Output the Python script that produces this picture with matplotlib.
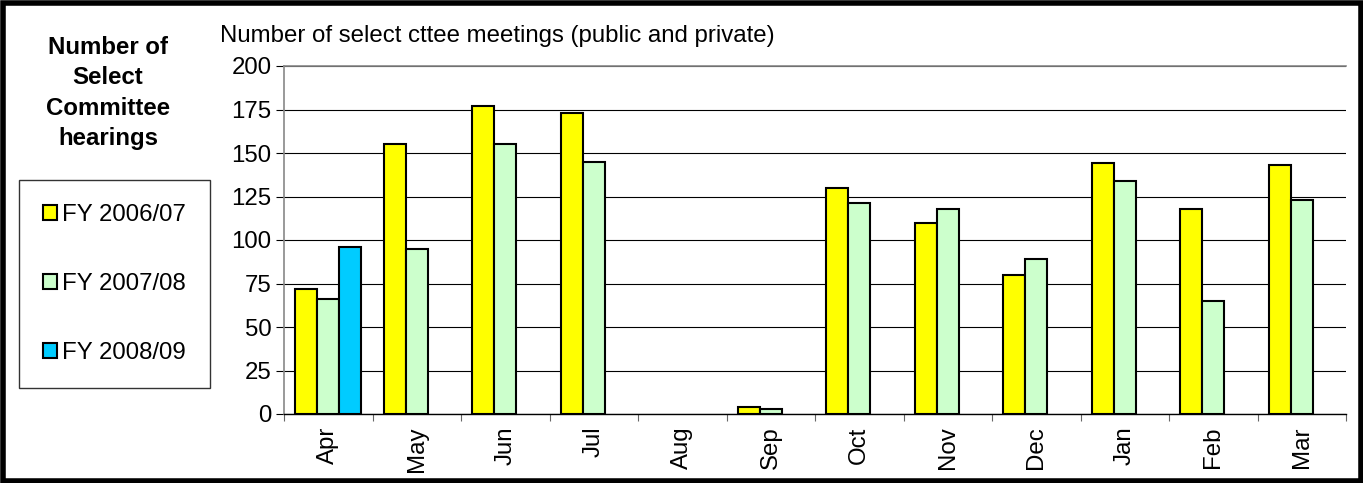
import matplotlib
matplotlib.use("Agg")
import matplotlib.pyplot as plt
from matplotlib.patches import Rectangle
import numpy as np

plt.rcParams['font.family'] = ['Liberation Sans', 'DejaVu Sans']

months = ["Apr", "May", "Jun", "Jul", "Aug", "Sep", "Oct", "Nov", "Dec", "Jan", "Feb", "Mar"]
fy_2006_07 = [72, 155, 177, 173, 0, 4, 130, 110, 80, 144, 118, 143]
fy_2007_08 = [66, 95, 155, 145, 0, 3, 121, 118, 89, 134, 65, 123]
fy_2008_09 = [96, None, None, None, None, None, None, None, None, None, None, None]
series_labels = ["FY 2006/07", "FY 2007/08", "FY 2008/09"]
series_colors = ["#FFFF00", "#CCFFCC", "#00CCFF"]
y_ticks = [0, 25, 50, 75, 100, 125, 150, 175, 200]

FS = 17.3

W, H = 1363, 483
fig = plt.figure(figsize=(W / 100, H / 100), dpi=100)

# plot area in pixel coordinates
px_left, px_right, px_top, px_bottom = 284, 1346, 66, 414
ax = fig.add_axes([px_left / W, (H - px_bottom) / H,
                   (px_right - px_left) / W, (px_bottom - px_top) / H])

x = np.arange(len(months))
bw = 0.25
handles = []
for i, (vals, lab, col) in enumerate(zip([fy_2006_07, fy_2007_08, fy_2008_09],
                                        series_labels, series_colors)):
    xs = [xi + (i - 1) * bw for xi, v in zip(x, vals) if v is not None]
    vs = [v for v in vals if v is not None]
    bars = ax.bar(xs, vs, width=bw, color=col, edgecolor="black",
                  linewidth=1.5, label=lab, zorder=3)
    # zero-height bars leave no visible outline
    for b, v in zip(bars, vs):
        if v == 0:
            b.set_linewidth(0)
    handles.append(bars)

ax.set_xlim(-0.5, len(months) - 0.5)
ax.set_ylim(0, 200)
ax.set_yticks(y_ticks)
ax.set_yticklabels([str(t) for t in y_ticks], fontsize=FS)
ax.yaxis.grid(True, color="black", linewidth=0.8, zorder=0)
ax.set_axisbelow(True)

# category boundaries carry the tick marks, labels sit at the centres
ax.set_xticks(np.arange(-0.5, len(months) + 0.5, 1.0))
ax.set_xticklabels([])
ax.set_xticks(x, minor=True)
ax.set_xticklabels(months, minor=True, rotation=90, fontsize=FS)
ax.tick_params(axis="x", which="minor", length=0, pad=9)
ax.tick_params(axis="x", which="major", length=5, direction="out", color="#666666")
ax.tick_params(axis="y", length=6, direction="out", color="black", pad=3)

for side in ("top", "left"):
    ax.spines[side].set_color("#888888")
    ax.spines[side].set_linewidth(1.2)
ax.spines["right"].set_visible(False)
ax.spines["bottom"].set_color("black")
ax.spines["bottom"].set_linewidth(1.0)

fig.text(220 / W, 1 - 36 / H, "Number of select cttee meetings (public and private)",
         fontsize=FS, ha="left", va="center")

fig.text(108 / W, 1 - 93 / H, "Number of\nSelect\nCommittee\nhearings",
         fontsize=FS, fontweight="bold", ha="center", va="center", linespacing=1.42)

leg = fig.legend(handles=handles, labels=series_labels,
                 loc="center", bbox_to_anchor=(114.5 / W, 1 - 284 / H),
                 fontsize=FS, frameon=True, fancybox=False, edgecolor="black",
                 labelspacing=1.95, handlelength=0.6, handleheight=0.6,
                 handletextpad=0.2, borderpad=1.0, borderaxespad=0)
leg.get_frame().set_linewidth(1.0)

# heavy outer border around the whole figure
fig.patches.append(Rectangle((2.5 / W, 2.5 / H), 1 - 5 / W, 1 - 5 / H,
                             transform=fig.transFigure, fill=False,
                             edgecolor="black", linewidth=4))

fig.savefig("out.png", dpi=100)
